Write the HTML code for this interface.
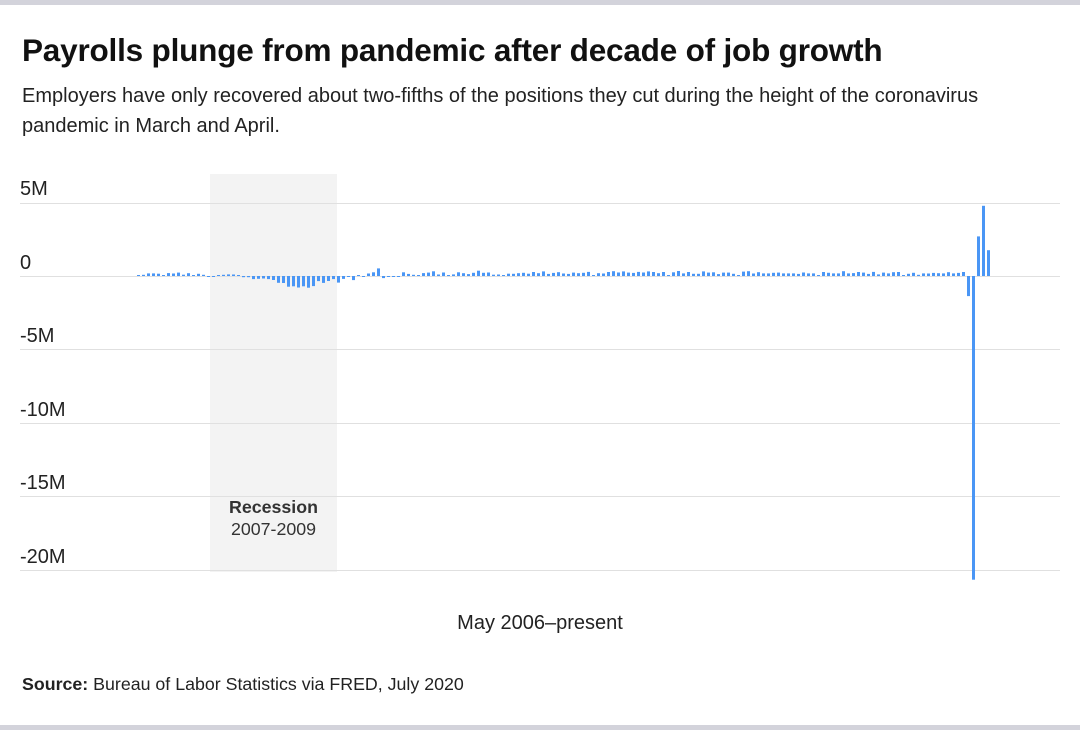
<!DOCTYPE html>
<html><head><meta charset="utf-8"><style>
body{margin:0;background:#fff;font-family:"Liberation Sans",Arial,sans-serif;}
#w{position:relative;width:1080px;height:730px;overflow:hidden;}
.bar{position:absolute;left:0;width:1080px;height:5px;background:#d3d3db;}
h1{position:absolute;left:22px;top:32px;margin:0;font-size:31.5px;font-weight:bold;color:#111;letter-spacing:-0.2px}
.sub{position:absolute;left:22px;top:81px;width:990px;font-size:20px;line-height:30px;color:#222}
.yl{position:absolute;left:20px;font-size:20px;color:#222}
.src{position:absolute;left:22px;top:674px;font-size:17.8px;color:#222}
</style></head><body><div id="w">
<div class="bar" style="top:0"></div><div class="bar" style="top:725px"></div>
<h1>Payrolls plunge from pandemic after decade of job growth</h1>
<div class="sub">Employers have only recovered about two-fifths of the positions they cut during the height of the coronavirus<br>pandemic in March and April.</div>
<svg id="c" width="1080" height="730" style="position:absolute;left:0;top:0"></svg>
<div class="yl" style="top:178px">5M</div>
<div class="yl" style="top:252px">0</div>
<div class="yl" style="top:325px">-5M</div>
<div class="yl" style="top:399px">-10M</div>
<div class="yl" style="top:472px">-15M</div>
<div class="yl" style="top:546px">-20M</div>
<div style="position:absolute;left:200px;width:147px;top:496px;text-align:center;font-size:17.8px;line-height:22px;color:#333"><b>Recession</b><br>2007-2009</div>
<div style="position:absolute;left:0;width:1080px;top:612px;text-align:center;font-size:20px;color:#222">May 2006–present</div>
<div class="src"><b>Source:</b> Bureau of Labor Statistics via FRED, July 2020</div>
</div>
<script>
var d=[20,80,180,180,160,10,200,170,
230,90,190,70,150,80,-30,-20,70,80,110,100,
10,-80,-80,-210,-190,-170,-210,-270,-460,-480,-730,-700,
-780,-700,-800,-690,-350,-470,-340,-210,-450,-200,-20,-280,
10,-70,170,250,520,-140,-70,-20,-60,250,140,80,
50,200,230,320,100,240,70,110,250,190,130,220,
360,220,240,90,100,70,160,150,190,220,160,270,
190,310,140,210,260,170,140,230,190,220,280,50,
190,170,270,330,240,310,230,210,280,240,310,270,
190,270,70,250,340,180,270,150,150,310,230,250,
130,230,230,150,40,300,330,170,260,180,180,220,
230,180,180,180,140,240,180,180,20,270,220,180,
180,330,180,200,270,230,140,280,110,230,180,260,
270,1,150,220,80,180,170,210,190,180,260,180,
210,270,-1370,-20690,2700,4780,1760];
var s='<rect x="210" y="174" width="127" height="398" fill="#f3f3f3"/>';
[203,276,349,423,496,570].forEach(function(y){s+='<line x1="20" x2="1060" y1="'+y+'.5" y2="'+y+'.5" stroke="#e0e0e0"/>';});
var k=73.4/5000;
d.forEach(function(v,i){var h=Math.max(Math.abs(v)*k,1);var x=137+5*i;var y=v>=0?276-h:276;
s+='<rect x="'+x+'" y="'+y.toFixed(1)+'" width="3" height="'+h.toFixed(1)+'" fill="#4a96f5"/>';});
document.getElementById('c').innerHTML=s;
</script>
</body></html>
